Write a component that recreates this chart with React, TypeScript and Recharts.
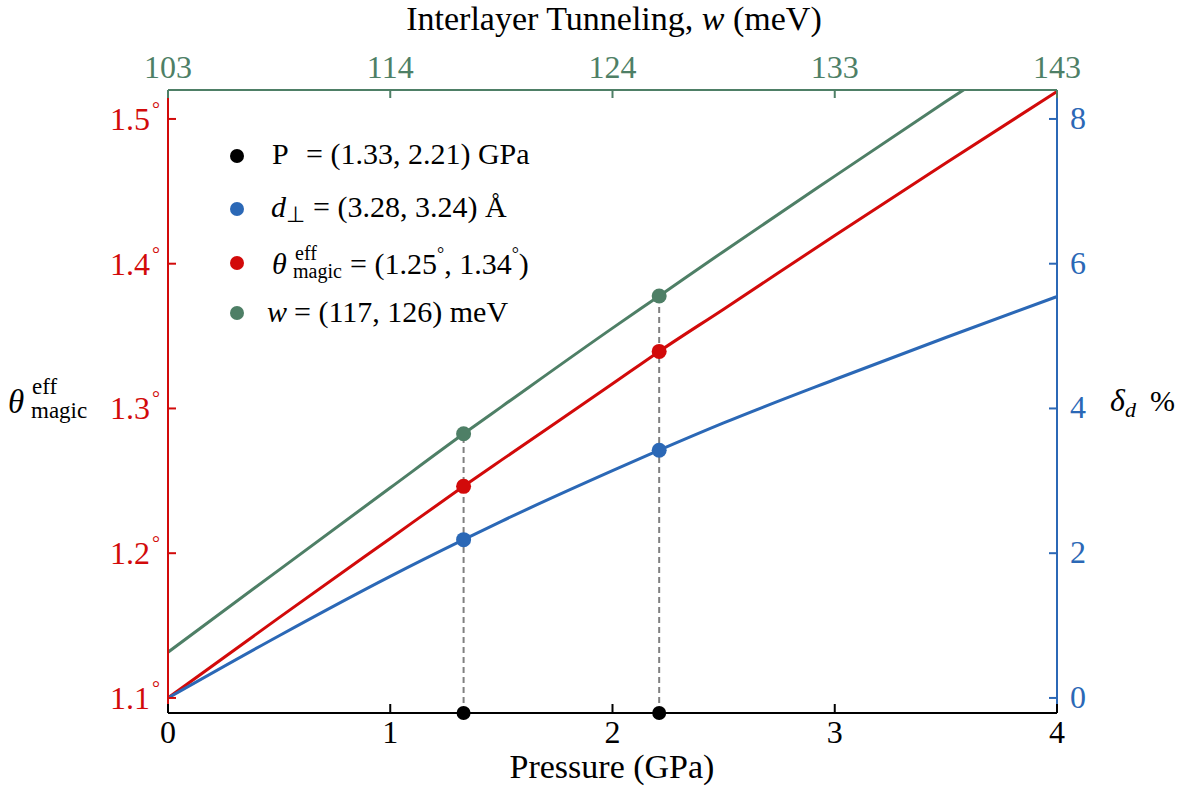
import { ComposedChart, Line, XAxis, YAxis, ReferenceLine, ReferenceDot } from 'recharts';

const pressure = [0, 0.5, 1, 1.33, 1.5, 2, 2.21, 2.5, 3, 3.5, 4];
const thetaMagic = [1.1, 1.1555, 1.2102, 1.2462, 1.2643, 1.317, 1.3394, 1.3686, 1.4195, 1.4695, 1.519];
const tunnelingCurve = [1.1316, 1.1885, 1.2452, 1.2825, 1.3011, 1.3555, 1.3777, 1.4085, 1.4605, 1.512, 1.5625];
const deltaD = [0, 0.86, 1.68, 2.187, 2.44, 3.14, 3.423, 3.8, 4.4, 4.98, 5.546];

// highlighted pressures and the curve values there
const markedPressure = [1.33, 2.21];
const markedTheta = [1.2462, 1.3394];
const markedW = [1.2825, 1.3777];
const markedDelta = [2.187, 3.423];

const pressureTicks = [0, 1, 2, 3, 4];
const tunnelingLabels = ['103', '114', '124', '133', '143'];
const thetaTicks = [1.1, 1.2, 1.3, 1.4, 1.5];
const deltaTicks = [0, 2, 4, 6, 8];

const thetaDomain = [1.0896, 1.52];
const deltaDomain = [-0.208, 8.4];

const RED = '#d20a0a';
const BLUE = '#2b68b6';
const GREEN = '#4e7f66';
const SERIF = '"Liberation Serif", "Times New Roman", serif';

const rows = pressure.map((p, i) => ({
  p,
  theta: thetaMagic[i],
  w: tunnelingCurve[i],
  delta: deltaD[i],
}));

const LeftTick = (props: any) => {
  const { x, y, payload } = props;
  return (
    <g>
      <line x1={x} y1={y} x2={x + 8} y2={y} stroke={RED} strokeWidth={2} />
      <text x={x - 8} y={y + 11} textAnchor="end" fill={RED} fontSize={32} fontFamily={SERIF}>
        {Number(payload.value).toFixed(1)}
        <tspan fontSize={20} dy={-14} dx={2}>°</tspan>
      </text>
    </g>
  );
};

const RightTick = (props: any) => {
  const { x, y, payload } = props;
  return (
    <g>
      <line x1={x - 8} y1={y} x2={x} y2={y} stroke={BLUE} strokeWidth={2} />
      <text x={x + 13} y={y + 10} textAnchor="start" fill={BLUE} fontSize={32} fontFamily={SERIF}>
        {payload.value}
      </text>
    </g>
  );
};

const BottomTick = (props: any) => {
  const { x, y, payload } = props;
  return (
    <g>
      <line x1={x} y1={y - 9} x2={x} y2={y} stroke="#000" strokeWidth={2} />
      <text x={x} y={y + 30} textAnchor="middle" fill="#000" fontSize={32} fontFamily={SERIF}>
        {payload.value}
      </text>
    </g>
  );
};

const TopTick = (props: any) => {
  const { x, y, payload } = props;
  const label = tunnelingLabels[pressureTicks.indexOf(payload.value)];
  return (
    <g>
      <line x1={x} y1={y} x2={x} y2={y + 8} stroke={GREEN} strokeWidth={2} />
      <text x={x} y={y - 12} textAnchor="middle" fill={GREEN} fontSize={32} fontFamily={SERIF}>
        {label}
      </text>
    </g>
  );
};

export default function App() {
  return (
    <div style={{ position: 'absolute', left: 0, top: 0, width: 1188, height: 794, background: '#fff' }}>
      <ComposedChart
        width={1188}
        height={794}
        data={rows}
        margin={{ top: 50, right: 71, bottom: 41, left: 108 }}
      >
        <XAxis
          xAxisId="bottom"
          dataKey="p"
          type="number"
          domain={[0, 4]}
          ticks={pressureTicks}
          height={40}
          axisLine={{ stroke: '#000', strokeWidth: 2 }}
          tickLine={false}
          tickSize={0}
          tickMargin={0}
          tick={<BottomTick />}
          allowDataOverflow
        />
        <XAxis
          xAxisId="top"
          orientation="top"
          dataKey="p"
          type="number"
          domain={[0, 4]}
          ticks={pressureTicks}
          height={40}
          axisLine={{ stroke: GREEN, strokeWidth: 2 }}
          tickLine={false}
          tickSize={0}
          tickMargin={0}
          tick={<TopTick />}
          allowDataOverflow
        />
        <YAxis
          yAxisId="left"
          type="number"
          domain={thetaDomain}
          ticks={thetaTicks}
          width={60}
          axisLine={{ stroke: RED, strokeWidth: 2 }}
          tickLine={false}
          tickSize={0}
          tickMargin={0}
          tick={<LeftTick />}
          allowDataOverflow
        />
        <YAxis
          yAxisId="right"
          orientation="right"
          type="number"
          domain={deltaDomain}
          ticks={deltaTicks}
          width={60}
          axisLine={{ stroke: BLUE, strokeWidth: 2 }}
          tickLine={false}
          tickSize={0}
          tickMargin={0}
          tick={<RightTick />}
          allowDataOverflow
        />

        {/* dashed drop lines from the tunneling points to the pressure axis */}
        {markedPressure.map((p, i) => (
          <ReferenceLine
            key={`drop-${p}`}
            xAxisId="bottom"
            yAxisId="left"
            segment={[
              { x: p, y: thetaDomain[0] },
              { x: p, y: markedW[i] },
            ]}
            stroke="#808080"
            strokeWidth={2}
            strokeDasharray="6 4"
          />
        ))}

        <Line
          xAxisId="top"
          yAxisId="left"
          type="monotone"
          dataKey="w"
          stroke={GREEN}
          strokeWidth={3}
          dot={false}
          isAnimationActive={false}
        />
        <Line
          xAxisId="bottom"
          yAxisId="left"
          type="monotone"
          dataKey="theta"
          stroke={RED}
          strokeWidth={3}
          dot={false}
          isAnimationActive={false}
        />
        <Line
          xAxisId="bottom"
          yAxisId="right"
          type="monotone"
          dataKey="delta"
          stroke={BLUE}
          strokeWidth={3}
          dot={false}
          isAnimationActive={false}
        />

        {markedPressure.map((p, i) => (
          <ReferenceDot key={`g-${p}`} xAxisId="bottom" yAxisId="left" x={p} y={markedW[i]} r={7.5} fill={GREEN} stroke="none" />
        ))}
        {markedPressure.map((p, i) => (
          <ReferenceDot key={`r-${p}`} xAxisId="bottom" yAxisId="left" x={p} y={markedTheta[i]} r={7.5} fill={RED} stroke="none" />
        ))}
        {markedPressure.map((p, i) => (
          <ReferenceDot key={`b-${p}`} xAxisId="bottom" yAxisId="right" x={p} y={markedDelta[i]} r={7.5} fill={BLUE} stroke="none" />
        ))}
        {markedPressure.map((p) => (
          <ReferenceDot
            key={`k-${p}`}
            xAxisId="bottom"
            yAxisId="left"
            x={p}
            y={thetaDomain[0]}
            r={7}
            fill="#000"
            stroke="none"
            ifOverflow="visible"
          />
        ))}
      </ComposedChart>

      {/* titles and legend */}
      <svg
        width={1188}
        height={794}
        style={{ position: 'absolute', left: 0, top: 0, pointerEvents: 'none' }}
        fontFamily={SERIF}
      >
        <text x={614} y={30} textAnchor="middle" fontSize={34} fill="#000">
          Interlayer Tunneling, <tspan fontStyle="italic">w</tspan> (meV)
        </text>
        <text x={612} y={778} textAnchor="middle" fontSize={34} fill="#000">
          Pressure (GPa)
        </text>

        <text x={8} y={413} fontSize={33} fontStyle="italic" fill="#000">θ</text>
        <text x={32} y={394} fontSize={23} fill="#000">eff</text>
        <text x={31} y={418} fontSize={23} fill="#000">magic</text>

        <text x={1110} y={411} fontSize={32} fontStyle="italic" fill="#000">δ</text>
        <text x={1125} y={417} fontSize={22} fontStyle="italic" fill="#000">d</text>
        <text x={1150} y={411} fontSize={30} fill="#000">%</text>

        <circle cx={237} cy={156} r={7} fill="#000" />
        <text x={272} y={164} fontSize={30} fill="#000">
          P<tspan x={306}>= (1.33, 2.21) GPa</tspan>
        </text>

        <circle cx={237} cy={209} r={7} fill={BLUE} />
        <text x={271} y={217} fontSize={30} fill="#000">
          <tspan fontStyle="italic">d</tspan>
          <tspan fontSize={22} dy={5}>⊥</tspan>
          <tspan x={313} dy={-5}>= (3.28, 3.24) Å</tspan>
        </text>

        <circle cx={237} cy={263} r={7} fill={RED} />
        <text x={272} y={274} fontSize={30} fontStyle="italic" fill="#000">θ</text>
        <text x={295} y={260} fontSize={20} fill="#000">eff</text>
        <text x={293} y={278} fontSize={20} fill="#000">magic</text>
        <text x={350} y={274} fontSize={30} fill="#000">
          = (1.25<tspan fontSize={18} dy={-14}>°</tspan>
          <tspan dy={14}>, 1.34</tspan>
          <tspan fontSize={18} dy={-14}>°</tspan>
          <tspan dy={14}>)</tspan>
        </text>

        <circle cx={237} cy={313} r={7} fill={GREEN} />
        <text x={267} y={322} fontSize={30} fill="#000">
          <tspan fontStyle="italic">w</tspan>
          <tspan x={294}>= (117, 126) meV</tspan>
        </text>
      </svg>
    </div>
  );
}
